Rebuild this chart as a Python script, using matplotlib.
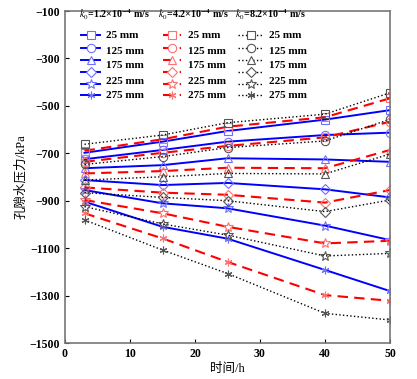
import matplotlib
matplotlib.use("Agg")
import matplotlib.pyplot as plt

# time (h)
t = [3, 15, 25, 40, 50]

# pore water pressure (kPa), k0 = 1.2e-4 m/s
blue = {
    "s": [-698, -651, -606, -558, -518],
    "o": [-725, -686, -651, -623, -613],
    "^": [-763, -750, -721, -726, -736],
    "D": [-813, -834, -825, -852, -886],
    "*": [-855, -911, -932, -1005, -1066],
    "x": [-904, -1010, -1060, -1192, -1281],
}
# k0 = 4.2e-4 m/s
red = {
    "s": [-689, -641, -588, -548, -468],
    "o": [-736, -698, -669, -633, -567],
    "^": [-785, -775, -761, -763, -686],
    "D": [-844, -866, -875, -908, -855],
    "*": [-897, -953, -1010, -1080, -1069],
    "x": [-953, -1059, -1158, -1298, -1322],
}
# k0 = 8.2e-4 m/s
black = {
    "s": [-662, -623, -571, -535, -445],
    "o": [-747, -714, -676, -648, -557],
    "^": [-813, -799, -785, -787, -703],
    "D": [-866, -886, -900, -946, -897],
    "*": [-925, -998, -1045, -1133, -1122],
    "x": [-981, -1108, -1207, -1375, -1403],
}

titles = [r"$k_0$=1.2×10$^{\mathbf{-4}}$ m/s", r"$k_0$=4.2×10$^{\mathbf{-4}}$ m/s",
          r"$k_0$=8.2×10$^{\mathbf{-4}}$ m/s"]
depth_labels = ["25 mm", "125 mm", "175 mm", "225 mm", "275 mm"]
marker_keys = ["s", "o", "^", "D", "*", "x"]

plt.rcParams["font.family"] = ["Liberation Serif", "Noto Sans CJK SC"]
plt.rcParams["mathtext.fontset"] = "stix"

styles = [
    dict(color="#0000ff", ls="-", lw=1.4, mec="#6f6fff"),
    dict(color="#ff0000", ls=(0, (5, 3)), lw=1.5, mec="#ff7070"),
    dict(color="black", ls=":", lw=1.0, mec="#555555"),
]
msize = {"s": 5.5, "o": 6, "^": 6, "D": 5, "*": 7.5, "x": 5.5}

def mk(m):
    # asterisk-like marker for the deepest sensor
    return (6, 2, 0) if m == "x" else m

fig = plt.figure(figsize=(4.17, 3.79), dpi=100)
ax = fig.add_axes([65 / 417, 1 - 343 / 379, 325 / 417, 332 / 379])

for data, st in zip([blue, red, black], styles):
    for m in marker_keys:
        ax.plot(t, data[m], color=st["color"], ls=st["ls"], lw=st["lw"],
                marker=mk(m), ms=msize[m], mfc="none", mec=st["mec"], mew=0.8)

ax.set_xlim(0, 50)
ax.set_ylim(-1500, -100)
ax.set_xticks(range(0, 51, 10))
ax.set_yticks(range(-1500, -99, 200))
ax.tick_params(direction="in", length=3, labelsize=8.5, width=0.8)
for lab in ax.get_xticklabels() + ax.get_yticklabels():
    lab.set_fontweight("bold")
for sp in ax.spines.values():
    sp.set_color("#777777")
    sp.set_linewidth(1.2)

ax.set_xlabel("时间/h", fontsize=9, labelpad=2)
ax.set_ylabel("孔隙水压力/kPa", fontsize=9, labelpad=2)

# hand-made legend (6 markers, 5 labels per group as in the original)
def fx(px):
    return (px - 65) / 325

def fy(py):
    return (343 - py) / 332

cols = [(81, 100, 106), (163, 181, 188), (238, 263, 269)]
title_x = [79, 158, 235]
marker_rows = [35, 48, 59.5, 71.5, 83.5, 95.5]
text_rows = [35, 51, 66, 81, 95.5]

for g, st in enumerate(styles):
    x0, x1, xt = cols[g]
    ax.text(fx(title_x[g]), fy(15), titles[g], transform=ax.transAxes,
            fontsize=7.2, fontweight="bold", va="center", ha="left")
    for m, py in zip(marker_keys, marker_rows):
        ax.plot([fx(x0), fx(x1)], [fy(py), fy(py)], transform=ax.transAxes,
                color=st["color"], ls=st["ls"], lw=st["lw"], clip_on=False)
        ax.plot([fx((x0 + x1) / 2)], [fy(py)], transform=ax.transAxes,
                marker=mk(m), ms=msize[m], mfc="white", mec=st["mec"], mew=0.8,
                ls="none", clip_on=False)
    for lab, py in zip(depth_labels, text_rows):
        ax.text(fx(xt), fy(py), lab, transform=ax.transAxes, fontsize=8,
                fontweight="bold", va="center", ha="left")

fig.savefig("out.png", dpi=100)
